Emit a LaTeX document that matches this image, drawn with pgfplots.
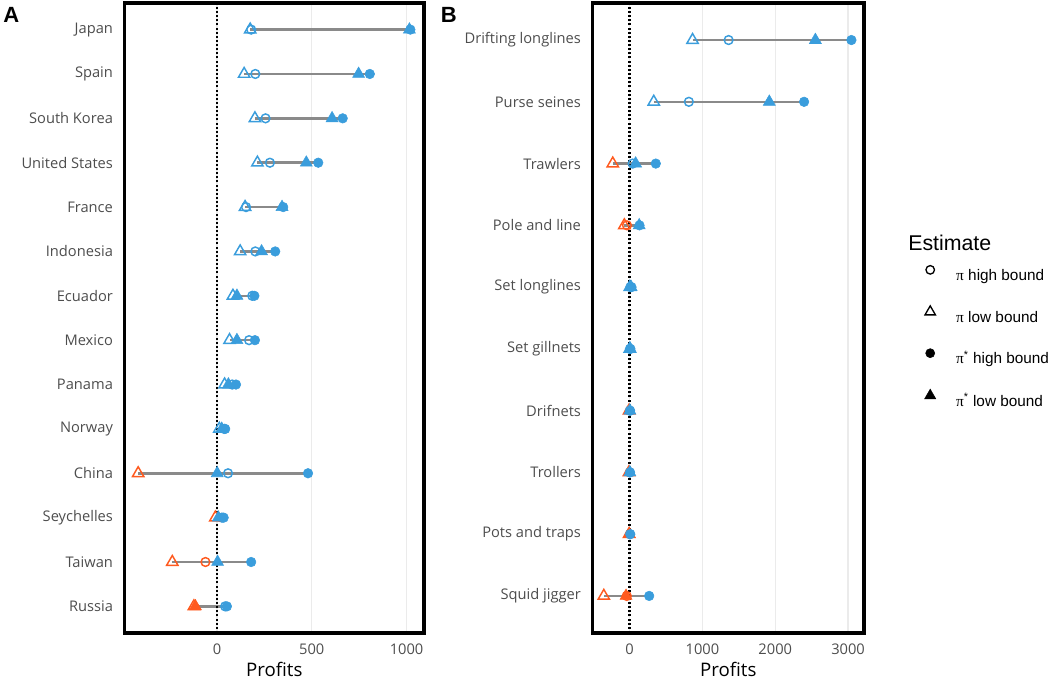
\documentclass[border=0pt]{standalone}
\usepackage{fontspec}
\setmainfont{Liberation Sans}
\newfontfamily\axisfont{Open Sans}
\newfontfamily\pifont{Liberation Serif}
\usepackage{pgfplots}
\pgfplotsset{compat=1.18}
\usepackage{pgfplotstable}

\definecolor{posblue}{HTML}{3A9DDC}
\definecolor{negorange}{HTML}{FF5A1F}
\definecolor{seggray}{HTML}{8A8A8A}
\definecolor{gridgray}{HTML}{EBEBEB}
\definecolor{ticktext}{HTML}{4D4D4D}

% columns: pi high, pi low, pi* high, pi* low
\pgfplotstableread{
y  phi  plo   pshi  pslo
14 180  175   1020  1015
13 202  143   806   747
12 256  200   663   607
11 279  213   534   471
10 153  148   349   343
9  202  122   307   235
8  186  84    197   105
7  169  66    200   105
6  80   40    100   60
5  38   12    43    25
4  58   -416  480   1
3  26   -9    35    7
2  -61  -236  180   3
1  43   -122  52    -114
}\countries

\pgfplotstableread{
y  phi   plo   pshi  pslo
10 1359  864   3046  2551
9  813   331   2396  1918
8  41    -232  359   82
7  -37   -73   135   131
6  10    3     25    20
5  5     2     10    8
4  2     -8    5     3
3  2     -10   5     3
2  3     -8    8     -5
1  -40   -355  268   -50
}\gears

\pgfplotsset{
  panel/.style={
    scale only axis, height=472.5pt, anchor=south west,
    axis line style={line width=2.5pt},
    xmajorgrids, grid style={gridgray, line width=1pt},
    major tick length=0pt, tick style={draw=none},
    tick label style={font=\axisfont\fontsize{11}{13}\selectfont, text=ticktext, inner sep=0pt},
    xticklabel style={yshift=-8pt},
    yticklabel style={xshift=-8.5pt},
    xlabel={Profits},
    xlabel style={at={(axis description cs:0.5,0)}, anchor=base, yshift=-33pt,
      font=\axisfont\fontsize{14}{16}\selectfont},
  },
  neg/.style={negorange, forget plot, restrict x to domain=-10000:-0.01},
  pos/.style={posblue, forget plot, restrict x to domain=0:10000},
  ocirc/.style={only marks, mark=o, mark size=3.3pt, line width=1.1pt},
  otri/.style={only marks, mark=triangle, mark size=4.9pt, line width=1.1pt},
  fcirc/.style={only marks, mark=*, mark size=3.6pt, line width=0.4pt},
  ftri/.style={only marks, mark=triangle*, mark size=5.2pt, line width=0.4pt},
  seg/.style={seggray, line width=1.9pt, unbounded coords=jump, forget plot},
  zeroline/.style={black, line width=2pt, dash pattern=on 1.5pt off 1.6pt, forget plot},
}

\newcommand\estimates[1]{%
  \addplot[ocirc, neg] table[x=phi, y=y] {#1};
  \addplot[ocirc, pos] table[x=phi, y=y] {#1};
  \addplot[otri, neg] table[x=plo, y=y] {#1};
  \addplot[otri, pos] table[x=plo, y=y] {#1};
  \addplot[ftri, neg] table[x=pslo, y=y] {#1};
  \addplot[ftri, pos] table[x=pslo, y=y] {#1};
  \addplot[fcirc, neg] table[x=pshi, y=y] {#1};
  \addplot[fcirc, pos] table[x=pshi, y=y] {#1};
}

\begin{document}
\begin{tikzpicture}
\path[use as bounding box] (0,0) rectangle (787.5pt,510pt);

\begin{axis}[panel, at={(93.4pt,35.25pt)}, width=224.6pt,
  xmin=-488, xmax=1092, ymin=0.4, ymax=14.6,
  xtick={0,500,1000}, xticklabels={0,500,1000},
  ytick={1,...,14},
  yticklabels={Russia,Taiwan,Seychelles,China,Norway,Panama,Mexico,Ecuador,Indonesia,France,United States,South Korea,Spain,Japan}]
\addplot[seg] coordinates {
  (175,14) (1020,14) (nan,14)
  (143,13) (806,13) (nan,13)
  (200,12) (663,12) (nan,12)
  (213,11) (534,11) (nan,11)
  (148,10) (349,10) (nan,10)
  (122,9) (307,9) (nan,9)
  (84,8) (197,8) (nan,8)
  (66,7) (200,7) (nan,7)
  (40,6) (100,6) (nan,6)
  (12,5) (43,5) (nan,5)
  (-416,4) (480,4) (nan,4)
  (-9,3) (35,3) (nan,3)
  (-236,2) (180,2) (nan,2)
  (-122,1) (52,1)
};
\estimates{\countries}
\addplot[zeroline] coordinates {(0,0.4) (0,14.6)};
\end{axis}

\begin{axis}[panel, at={(444.4pt,35.25pt)}, width=203.6pt,
  xmin=-510, xmax=3219, ymin=0.4, ymax=10.6,
  xtick={0,1000,2000,3000}, xticklabels={0,1000,2000,3000},
  ytick={1,...,10},
  yticklabels={Squid jigger,Pots and traps,Trollers,Drifnets,Set gillnets,Set longlines,Pole and line,Trawlers,Purse seines,Drifting longlines},
  legend style={at={(axis description cs:1.2012,0.5853)}, anchor=north west,
    draw=none, fill=none, inner sep=0pt, row sep=19pt, column sep=11pt,
    nodes={inner sep=0pt, text height=8pt, text depth=0pt, font=\fontsize{11.5}{13}\selectfont}},
  legend cell align=left,
  legend image code/.code={\path[draw=none, fill=none] (0pt,0pt) rectangle (17pt,8pt); \draw[#1] plot coordinates {(8.5pt,4pt)};}]
\addlegendimage{only marks, mark=o, mark size=3.2pt, line width=1pt, black}
\addlegendentry{{\pifont π} high bound}
\addlegendimage{only marks, mark=triangle, mark size=4.5pt, line width=1pt, black}
\addlegendentry{{\pifont π} low bound}
\addlegendimage{only marks, mark=*, mark size=3.4pt, black}
\addlegendentry{{\pifont π}\textsuperscript{*} high bound}
\addlegendimage{only marks, mark=triangle*, mark size=4.8pt, black}
\addlegendentry{{\pifont π}\textsuperscript{*} low bound}
\addplot[seg] coordinates {
  (864,10) (3046,10) (nan,10)
  (331,9) (2396,9) (nan,9)
  (-232,8) (359,8) (nan,8)
  (-73,7) (135,7) (nan,7)
  (3,6) (25,6) (nan,6)
  (2,5) (10,5) (nan,5)
  (-8,4) (5,4) (nan,4)
  (-10,3) (5,3) (nan,3)
  (-8,2) (8,2) (nan,2)
  (-355,1) (268,1)
};
\estimates{\gears}
\addplot[zeroline] coordinates {(0,0.4) (0,10.6)};
\end{axis}

\node[anchor=base west, inner sep=0pt, font=\bfseries\fontsize{16.5}{18}\selectfont] at (2.25pt,492.75pt) {A};
\node[anchor=base west, inner sep=0pt, font=\bfseries\fontsize{16.5}{18}\selectfont] at (330.5pt,492.75pt) {B};
\node[anchor=base west, inner sep=0pt, font=\fontsize{16}{18}\selectfont] at (681pt,321.75pt) {Estimate};
\end{tikzpicture}
\end{document}
